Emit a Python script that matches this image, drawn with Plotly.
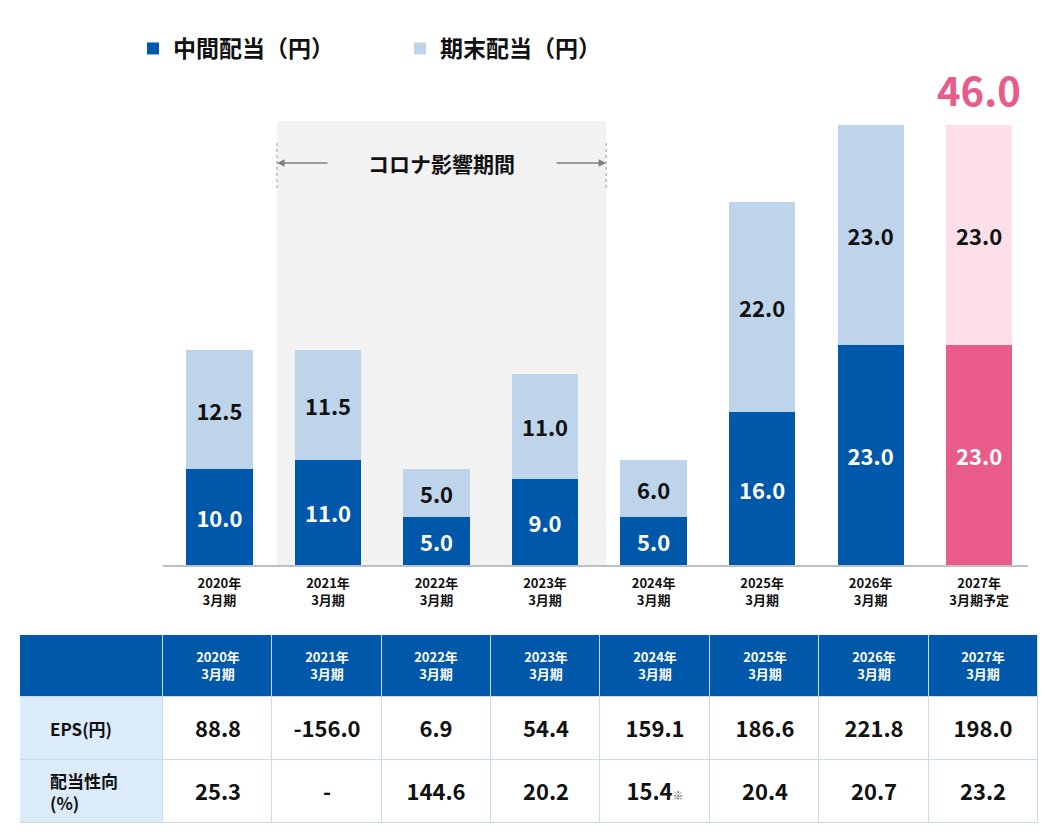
import plotly.graph_objects as go

# ---------- data ----------
periods = ["2020年<br>3月期", "2021年<br>3月期", "2022年<br>3月期", "2023年<br>3月期",
           "2024年<br>3月期", "2025年<br>3月期", "2026年<br>3月期", "2027年<br>3月期予定"]
table_periods = ["2020年<br>3月期", "2021年<br>3月期", "2022年<br>3月期", "2023年<br>3月期",
                 "2024年<br>3月期", "2025年<br>3月期", "2026年<br>3月期", "2027年<br>3月期"]
interim = [10.0, 11.0, 5.0, 9.0, 5.0, 16.0, 23.0, 23.0]
year_end = [12.5, 11.5, 5.0, 11.0, 6.0, 22.0, 23.0, 23.0]
forecast = [False, False, False, False, False, False, False, True]
eps = [88.8, -156.0, 6.9, 54.4, 159.1, 186.6, 221.8, 198.0]
payout = [25.3, None, 144.6, 20.2, 15.4, 20.4, 20.7, 23.2]
payout_note = [False, False, False, False, True, False, False, False]
row_labels = ["EPS(円)", "配当性向<br>(%)"]
covid_label = "コロナ影響期間"

# ---------- styling ----------
OFF = 8                      # page body margin
W, H = 1058 - 2 * OFF, 832 - 2 * OFF
FONT = "Noto Sans CJK JP"
BLUE = "#0058aa"
LIGHT_BLUE = "#bed4ea"
PINK = "#e95b8a"
LIGHT_PINK = "#fcdfe8"
CELL_BG = "#dcebf9"
GRID = "#c8dbee"

def px_x(p):
    return (p - OFF) / W

def px_y(p):
    return 1 - (p - OFF) / H

# bar area: baseline at 565px, ~9.56 px per yen
base_px, top_px, px_per_unit = 565, 100, 9.56
y_max = (base_px - top_px) / px_per_unit

def val_y(p):
    return (base_px - p) / px_per_unit

def cat_x(p):
    return (p - 219.4) / 108.5

interim_colors = [PINK if f else BLUE for f in forecast]
end_colors = [LIGHT_PINK if f else LIGHT_BLUE for f in forecast]

fig = go.Figure()
fig.add_trace(go.Bar(
    x=periods, y=interim, name="中間配当（円）",
    marker=dict(color=interim_colors, line_width=0),
    texttemplate="%{y:.1f}", textposition="inside", insidetextanchor="middle",
    textfont=dict(size=22, color="white", family=FONT, weight=700),
))
fig.add_trace(go.Bar(
    x=periods, y=year_end, name="期末配当（円）",
    marker=dict(color=end_colors, line_width=0),
    texttemplate="%{y:.1f}", textposition="inside", insidetextanchor="middle",
    textfont=dict(size=22, color="#111111", family=FONT, weight=700),
))

# total for the forecast year
totals = [a + b for a, b in zip(interim, year_end)]
for i, f in enumerate(forecast):
    if f:
        fig.add_annotation(x=i, y=totals[i], text=f"{totals[i]:.1f}", showarrow=False,
                           yanchor="bottom", yshift=5,
                           font=dict(size=40, color=PINK, family=FONT, weight=700))

# covid period shading
cx0, cx1 = cat_x(277), cat_x(606)
fig.add_shape(type="rect", xref="x", yref="y", x0=cx0, x1=cx1, y0=0, y1=val_y(121),
              fillcolor="#f2f2f2", line_width=0, layer="below")
for xv in (cx0, cx1):
    fig.add_shape(type="line", xref="x", yref="y", x0=xv, x1=xv, y0=val_y(188), y1=val_y(140),
                  line=dict(color="#9a9a9a", width=1, dash="dot"))
ay = val_y(163)
for head, tail in ((cx0, cat_x(329)), (cx1, cat_x(555))):
    fig.add_annotation(x=head, y=ay, ax=tail, ay=ay, xref="x", yref="y", axref="x", ayref="y",
                       text="", showarrow=True, arrowhead=2, arrowsize=1, arrowwidth=1.5,
                       arrowcolor="#808080", standoff=0)
fig.add_annotation(x=(cx0 + cx1) / 2, y=ay, text=covid_label, showarrow=False,
                   font=dict(size=21, color="#111111", family=FONT, weight=700))

# ---------- table (heatmap bricks on x2/y2) ----------
col_widths = [143] + [109.4] * 8
col_edges = [0.0]
for w in col_widths:
    col_edges.append(col_edges[-1] + w)
header_h, row_h = 62, 63
row_edges = [0, header_h, header_h + row_h, header_h + 2 * row_h]

def fmt_payout(v, note):
    if v is None:
        return "-"
    s = f"{v:.1f}"
    if note:
        s += "<span style='font-size:11px;color:#555555'>※</span>"
    return s

header_text = [[""] + table_periods]
body_text = [[""] + [f"{e:.1f}" for e in eps],
             [""] + [fmt_payout(p, n) for p, n in zip(payout, payout_note)]]

fig.add_shape(type="rect", xref="x2", yref="y2", x0=0, x1=col_edges[-1], y0=0, y1=row_edges[-1],
              fillcolor=GRID, line_width=0, layer="below")
fig.add_trace(go.Heatmap(
    x=col_edges, y=row_edges[:2], z=[[0] * 9], xaxis="x2", yaxis="y2",
    colorscale=[[0, BLUE], [1, BLUE]], showscale=False, hoverinfo="skip",
    xgap=1, ygap=1, text=header_text, texttemplate="%{text}",
    textfont=dict(size=13, color="white", family=FONT, weight=700),
))
fig.add_trace(go.Heatmap(
    x=col_edges, y=row_edges[1:], z=[[0] + [1] * 8] * 2, xaxis="x2", yaxis="y2",
    colorscale=[[0, CELL_BG], [1, "white"]], zmin=0, zmax=1, showscale=False, hoverinfo="skip",
    xgap=1, ygap=1, text=body_text, texttemplate="%{text}",
    textfont=dict(size=22, color="#111111", family=FONT, weight=700),
))
for k, lbl in enumerate(row_labels):
    fig.add_annotation(xref="x2", yref="y2", x=28, y=(row_edges[k + 1] + row_edges[k + 2]) / 2,
                       text=lbl, showarrow=False, xanchor="left", align="left",
                       font=dict(size=17, color="#111111", family=FONT, weight=700))

# ---------- layout ----------
fig.update_layout(
    width=W, height=H,
    barmode="stack", bargap=0.39,
    margin=dict(l=0, r=0, t=0, b=0),
    plot_bgcolor="white", paper_bgcolor="white",
    font=dict(family=FONT, size=14, color="#111111"),
    uniformtext=dict(minsize=22, mode="show"),
    showlegend=True,
    legend=dict(orientation="h", x=px_x(133), y=px_y(27), xanchor="left", yanchor="top",
                entrywidth=222, entrywidthmode="pixels", traceorder="normal",
                font=dict(size=23, family=FONT, weight=700, color="#111111")),
    xaxis=dict(domain=[px_x(163), px_x(1028)], range=[-0.52, 7.45], type="category",
               showline=True, linecolor="#bfbfbf", linewidth=1.5, ticks="",
               ticklabelstandoff=6, showgrid=False,
               tickfont=dict(size=13, family=FONT, weight=700, color="#111111")),
    yaxis=dict(domain=[px_y(base_px), px_y(top_px)], range=[0, y_max],
               visible=False, showgrid=False, zeroline=False),
    xaxis2=dict(domain=[px_x(20), px_x(1038)], range=[0, col_edges[-1]], visible=False,
                anchor="y2"),
    yaxis2=dict(domain=[px_y(823), px_y(635)], range=[row_edges[-1], 0], visible=False,
                anchor="x2"),
)

fig.write_html("out.html")
